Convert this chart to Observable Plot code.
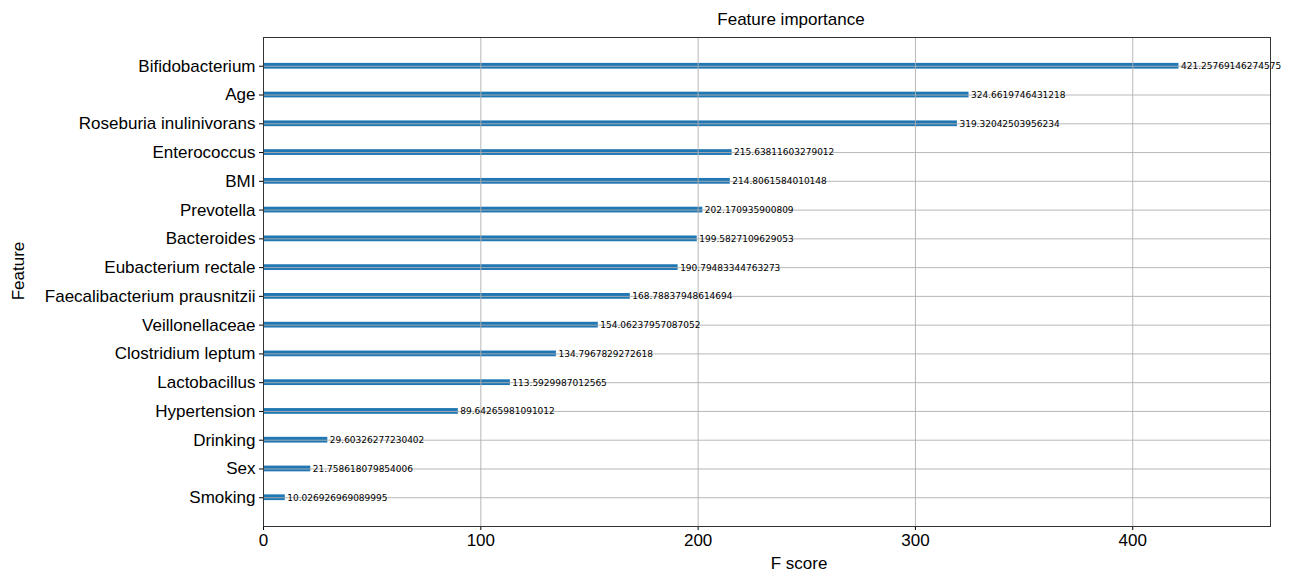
<!DOCTYPE html>
<html>
<head>
<meta charset="utf-8">
<script src="https://cdn.jsdelivr.net/npm/d3@7"></script>
<script src="https://cdn.jsdelivr.net/npm/@observablehq/plot@0.6"></script>
<style>
  html, body { margin: 0; padding: 0; background: #fff; }
</style>
</head>
<body>
<div id="chart"></div>
<script>
const features = [
  "Bifidobacterium", "Age", "Roseburia inulinivorans", "Enterococcus", "BMI",
  "Prevotella", "Bacteroides", "Eubacterium rectale", "Faecalibacterium prausnitzii",
  "Veillonellaceae", "Clostridium leptum", "Lactobacillus", "Hypertension",
  "Drinking", "Sex", "Smoking"
];
const scores = [
  421.25769146274575, 324.6619746431218, 319.32042503956234, 215.63811603279012,
  214.8061584010148, 202.170935900809, 199.5827109629053, 190.79483344763273,
  168.78837948614694, 154.06237957087052, 134.7967829272618, 113.5929987012565,
  89.64265981091012, 29.60326277230402, 21.758618079854006, 10.026926969089995
];
const xTicks = [0, 100, 200, 300, 400];
const title = "Feature importance";
const xLabel = "F score";
const yLabel = "Feature";

const data = features.map((f, i) => ({feature: f, value: scores[i], label: String(scores[i])}));
const xMax = d3.max(scores) * 1.1;

const chart = Plot.plot({
  width: 1289,
  height: 573,
  marginLeft: 263,
  marginRight: 19,
  marginTop: 37,
  marginBottom: 47,
  style: {fontFamily: "'Liberation Sans', Arial, sans-serif", fontSize: "17px", color: "#000", background: "#fff"},
  x: {domain: [0, xMax]},
  y: {domain: features, paddingInner: 0.8, paddingOuter: 0.9, round: false},
  marks: [
    Plot.barX(data, {x: "value", y: "feature", fill: "#1f77b4"}),
    Plot.gridX(xTicks, {stroke: "#b0b0b0", strokeOpacity: 1, strokeWidth: 0.9}),
    Plot.gridY(features, {stroke: "#b0b0b0", strokeOpacity: 1, strokeWidth: 0.9}),
    Plot.text(data, {
      x: "value", y: "feature", text: "label", textAnchor: "start", dx: 2,
      fontFamily: "'DejaVu Sans', sans-serif", fontSize: 9, fill: "#000"
    }),
    Plot.axisX({ticks: xTicks, tickSize: 4, tickPadding: 3, label: null, fontSize: 17}),
    Plot.axisY({tickSize: 4, tickPadding: 4, label: null, fontSize: 17}),
    Plot.frame({stroke: "#333", strokeWidth: 1}),
    Plot.text([title], {frameAnchor: "top", lineAnchor: "middle", dy: -18, dx: 24, fontSize: 17, fill: "#000"}),
    Plot.text([xLabel], {frameAnchor: "bottom", lineAnchor: "middle", dy: 37, dx: 32, fontSize: 17, fill: "#000"}),
    Plot.text([yLabel], {frameAnchor: "left", textAnchor: "middle", lineAnchor: "middle", rotate: -90, dx: -245, dy: -11, fontSize: 17, fill: "#000"})
  ]
});
document.getElementById("chart").appendChild(chart);
</script>
</body>
</html>
